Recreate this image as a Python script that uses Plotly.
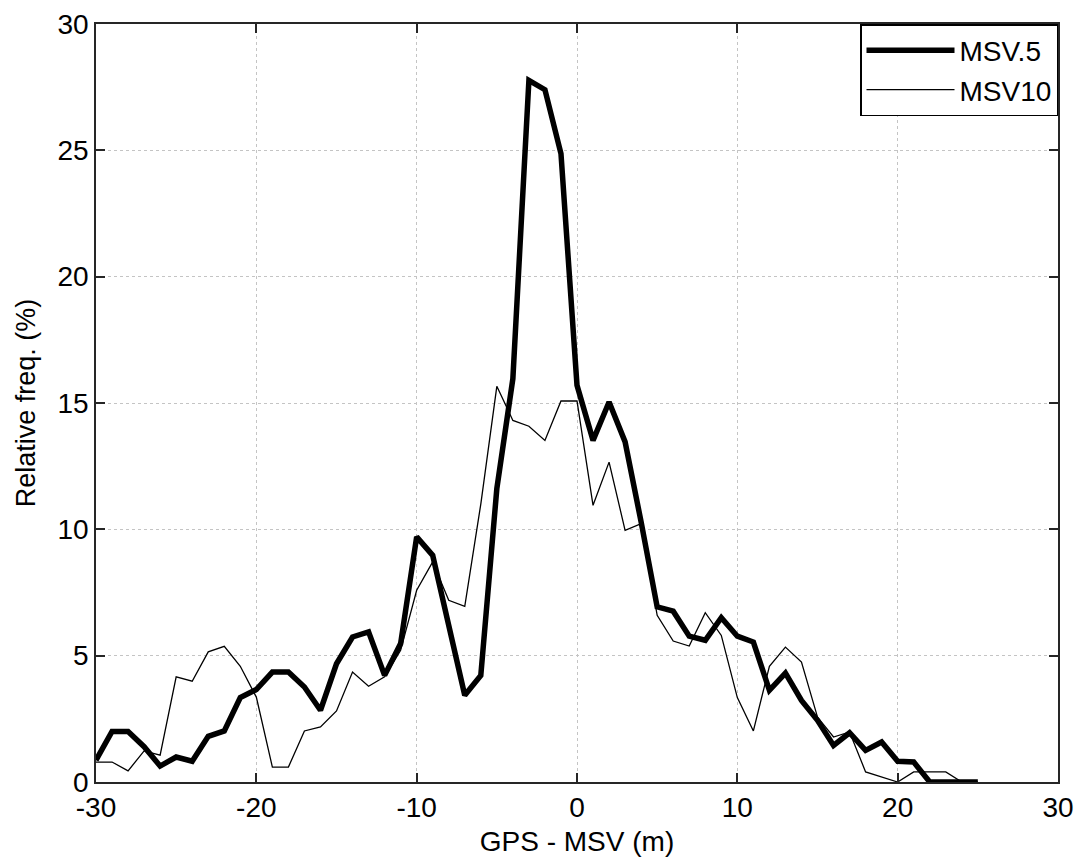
import plotly.graph_objects as go

x_vals = list(range(-30, 26))

msv5 = [0.86, 2.0, 2.0, 1.4, 0.63, 0.99, 0.82, 1.81, 2.02, 3.34,
        3.66, 4.35, 4.35, 3.76, 2.84, 4.68, 5.74, 5.94, 4.22, 5.48,
        9.70, 8.97, 6.2, 3.43, 4.22, 11.61, 15.96, 27.77, 27.4, 24.87,
        15.7, 13.52, 15.04, 13.46, 10.29, 6.93, 6.76, 5.77, 5.61, 6.5,
        5.77, 5.54, 3.63, 4.31, 3.23, 2.44, 1.45, 1.95, 1.25, 1.58,
        0.82, 0.79, 0.0, 0.0, 0.0, 0.0]

msv10 = [0.79, 0.79, 0.44, 1.23, 1.06, 4.16, 3.99, 5.15, 5.37, 4.58,
         3.36, 0.59, 0.59, 2.02, 2.18, 2.81, 4.35, 3.79, 4.16, 5.21,
         7.59, 8.71, 7.19, 6.95, 11.0, 15.66, 14.31, 14.08, 13.52, 15.08,
         15.08, 10.95, 12.66, 9.96, 10.22, 6.6, 5.58, 5.38, 6.7, 5.8,
         3.34, 2.02, 4.58, 5.34, 4.75, 2.57, 1.78, 1.98, 0.40, 0.2,
         0.0, 0.4, 0.4, 0.4, 0.0, 0.0]

x_ticks = [-30, -20, -10, 0, 10, 20, 30]
y_ticks = [0, 5, 10, 15, 20, 25, 30]

FONT = "Liberation Sans, Arial, sans-serif"

fig = go.Figure()
fig.add_trace(go.Scatter(x=x_vals, y=msv5, mode="lines", name="MSV.5",
                         line=dict(color="black", width=5.5)))
fig.add_trace(go.Scatter(x=x_vals, y=msv10, mode="lines", name="MSV10",
                         line=dict(color="black", width=1.3)))

axis_common = dict(
    showline=True, linecolor="#262626", linewidth=1.5, mirror="ticks",
    ticks="inside", ticklen=9, tickwidth=1.5, tickcolor="#262626",
    showgrid=True, gridcolor="#c4c4c4", griddash="dot", gridwidth=1,
    zeroline=False, automargin=False,
    tickfont=dict(family=FONT, size=28, color="black"),
)

fig.update_xaxes(range=[-30, 30], tickvals=x_ticks,
                 ticktext=[str(v) for v in x_ticks],
                 title=dict(text="GPS - MSV (m)", font=dict(family=FONT, size=28, color="black"),
                            standoff=10),
                 **axis_common)
fig.update_yaxes(range=[0, 30], tickvals=y_ticks,
                 ticktext=[str(v) for v in y_ticks],
                 title=dict(text="Relative freq. (%)", font=dict(family=FONT, size=27, color="black"),
                            standoff=14),
                 **axis_common)

fig.update_layout(
    width=1075, height=857,
    margin=dict(l=96, r=17, t=24, b=75),
    paper_bgcolor="white", plot_bgcolor="white",
    font=dict(family=FONT, color="black"),
    legend=dict(x=1, y=1, xanchor="right", yanchor="top",
                bgcolor="white", bordercolor="black", borderwidth=1.5,
                font=dict(family=FONT, size=28, color="black"),
                tracegroupgap=0, itemwidth=88),
    showlegend=True,
)

fig.write_html("out.html")
